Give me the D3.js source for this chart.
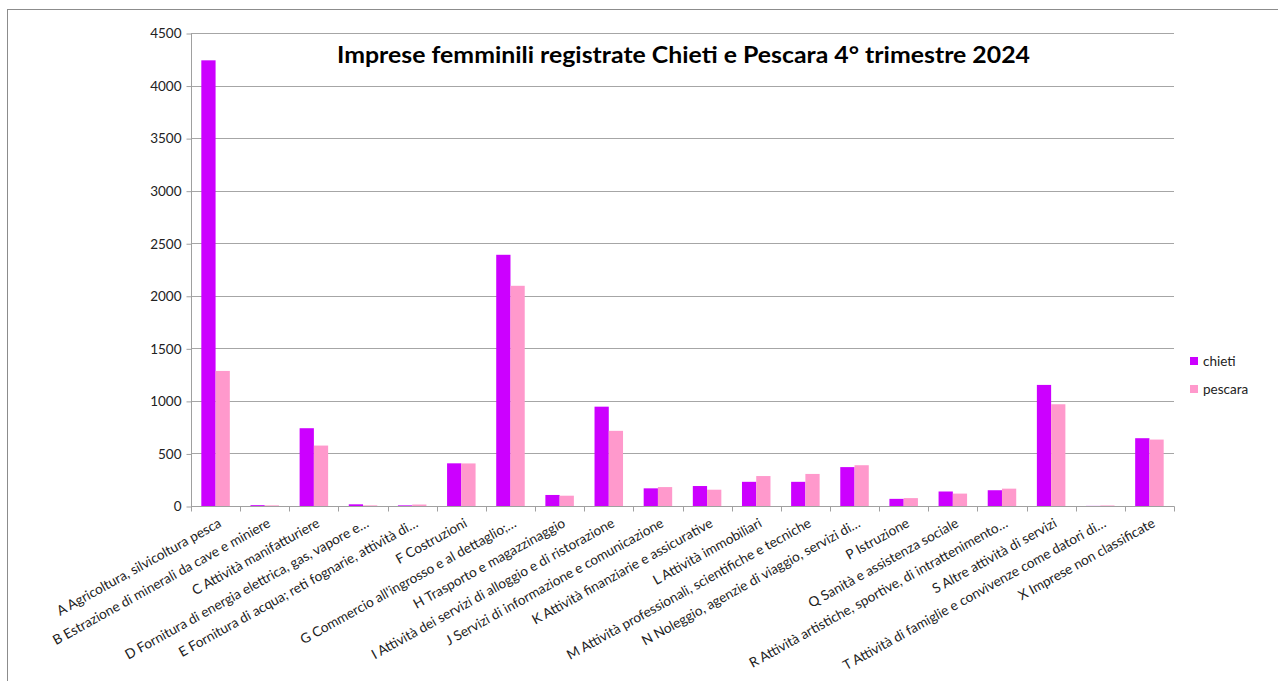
<!DOCTYPE html>
<html>
<head>
<meta charset="utf-8">
<script src="https://cdn.jsdelivr.net/npm/d3@7"></script>
<style>
  body { margin: 0; background: #fff; }
  svg { display: block; }
</style>
</head>
<body>
<div id="chart"></div>
<script>
var categories = [
  'A Agricoltura, silvicoltura pesca',
  'B Estrazione di minerali da cave e miniere',
  'C Attività manifatturiere',
  'D Fornitura di energia elettrica, gas, vapore e…',
  'E Fornitura di acqua; reti fognarie, attività di…',
  'F Costruzioni',
  'G Commercio all\'ingrosso e al dettaglio;…',
  'H Trasporto e magazzinaggio',
  'I Attività dei servizi di alloggio e di ristorazione',
  'J Servizi di informazione e comunicazione',
  'K Attività finanziarie e assicurative',
  'L Attività immobiliari',
  'M Attività professionali, scientifiche e tecniche',
  'N Noleggio, agenzie di viaggio, servizi di…',
  'P Istruzione',
  'Q Sanità e assistenza sociale',
  'R Attività artistiche, sportive, di intrattenimento…',
  'S Altre attività di servizi',
  'T Attività di famiglie e convivenze come datori di…',
  'X Imprese non classificate'
];
var chieti  = [4240, 8, 740, 16, 6, 406, 2390, 105, 945, 168, 190, 230, 230, 370, 68, 138, 150, 1152, 1, 645];
var pescara = [1285, 6, 575, 6, 14, 405, 2095, 98, 715, 180, 155, 285, 305, 388, 75, 118, 165, 968, 5, 632];
var seriesNames = ['chieti', 'pescara'];
var seriesColors = ['#cc00ff', '#ff99cc'];
var yTicks = [0, 500, 1000, 1500, 2000, 2500, 3000, 3500, 4000, 4500];
var title = 'Imprese femminili registrate Chieti e Pescara 4° trimestre 2024';

var width = 1278;
var height = 681;
var plotLeft = 191, plotRight = 1174, plotTop = 33, plotBottom = 506;

var svg = d3.select('#chart')
            .append('svg')
            .attr('width', width)
            .attr('height', height);

// outer chart border (only left and top visible in the picture)
svg.append('rect')
   .attr('x', 7.5).attr('y', 9.5)
   .attr('width', 1300).attr('height', 700)
   .attr('fill', 'none')
   .attr('stroke', '#8c8c8c');

var x = d3.scaleBand()
          .domain(categories)
          .range([plotLeft, plotRight])
          .paddingInner(0.42)
          .paddingOuter(0.21);

var x1 = d3.scaleBand()
           .domain(seriesNames)
           .range([0, x.bandwidth()]);

var y = d3.scaleLinear()
          .domain([0, 4500])
          .range([plotBottom, plotTop]);

// gridlines
svg.append('g')
   .selectAll('line')
   .data(yTicks.filter(function (d) { return d > 0; }))
   .enter()
   .append('line')
     .attr('x1', plotLeft).attr('x2', plotRight)
     .attr('y1', function (d) { return Math.round(y(d)) + 0.5; })
     .attr('y2', function (d) { return Math.round(y(d)) + 0.5; })
     .attr('stroke', '#a6a6a6')
     .attr('stroke-width', 1);

// bars
var rows = categories.map(function (c, i) {
  return { cat: c, values: [chieti[i], pescara[i]] };
});

var groups = svg.append('g')
   .selectAll('g')
   .data(rows)
   .enter()
   .append('g')
     .attr('transform', function (d) { return 'translate(' + x(d.cat) + ',0)'; });

groups.selectAll('rect')
   .data(function (d) {
     return d.values.map(function (v, j) { return { key: seriesNames[j], value: v, color: seriesColors[j] }; });
   })
   .enter()
   .append('rect')
     .attr('x', function (d) { return x1(d.key); })
     .attr('y', function (d) { return y(d.value); })
     .attr('width', x1.bandwidth())
     .attr('height', function (d) { return plotBottom - y(d.value); })
     .attr('fill', function (d) { return d.color; });

// y axis
var yAxis = d3.axisLeft(y)
              .tickValues(yTicks)
              .tickFormat(d3.format('d'))
              .tickSizeInner(5)
              .tickSizeOuter(0)
              .tickPadding(5);

var yg = svg.append('g')
   .attr('transform', 'translate(' + (plotLeft + 0.5) + ',0.5)')
   .call(yAxis);
yg.select('.domain').remove();
yg.append('line')
  .attr('y1', plotTop).attr('y2', plotBottom)
  .attr('stroke', '#a0a0a0');
yg.selectAll('.tick line').attr('stroke', '#a0a0a0');
yg.selectAll('text')
  .attr('font-family', 'Lato, "Noto Sans", sans-serif')
  .attr('font-size', '13.5px')
  .attr('fill', '#222');

// x axis: ticks at category boundaries
var xg = svg.append('g')
   .attr('transform', 'translate(0,' + (plotBottom + 0.5) + ')');
xg.append('line')
  .attr('x1', plotLeft).attr('x2', plotRight + 0.5)
  .attr('stroke', '#a0a0a0');
var step = (plotRight - plotLeft) / categories.length;
xg.selectAll('.tick')
  .data(d3.range(categories.length + 1))
  .enter()
  .append('line')
    .attr('class', 'tick')
    .attr('x1', function (i) { return Math.round(plotLeft + i * step) + 0.5; })
    .attr('x2', function (i) { return Math.round(plotLeft + i * step) + 0.5; })
    .attr('y1', 0).attr('y2', 5)
    .attr('stroke', '#a0a0a0');

xg.selectAll('.label')
  .data(categories)
  .enter()
  .append('text')
    .attr('class', 'label')
    .attr('text-anchor', 'end')
    .attr('font-family', 'Lato, "Noto Sans", sans-serif')
    .attr('font-size', '13.6px')
    .attr('fill', '#222')
    .attr('dy', '0.71em')
    .attr('transform', function (d) {
      var cx = x(d) + x.bandwidth() / 2 + 2;
      return 'translate(' + cx + ',11) rotate(-29)';
    })
    .text(function (d) { return d; });

// title
svg.append('text')
   .attr('x', 683.5)
   .attr('y', 63)
   .attr('text-anchor', 'middle')
   .attr('font-family', 'Lato, "Noto Sans", sans-serif')
   .attr('font-weight', 'bold')
   .attr('font-size', '22px')
   .attr('textLength', 693)
   .attr('lengthAdjust', 'spacingAndGlyphs')
   .attr('fill', '#000')
   .text(title);

// legend
var legend = svg.append('g')
   .selectAll('g')
   .data(seriesNames)
   .enter()
   .append('g')
     .attr('transform', function (d, i) { return 'translate(1190,' + (357 + i * 28) + ')'; });
legend.append('rect')
   .attr('width', 8).attr('height', 8)
   .attr('fill', function (d, i) { return seriesColors[i]; });
legend.append('text')
   .attr('x', 13).attr('y', 4)
   .attr('dy', '0.35em')
   .attr('font-family', 'Lato, "Noto Sans", sans-serif')
   .attr('font-size', '13.5px')
   .attr('fill', '#222')
   .text(function (d) { return d; });
</script>
</body>
</html>
